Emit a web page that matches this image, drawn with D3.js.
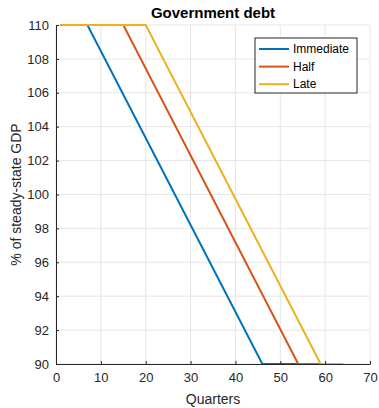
<!DOCTYPE html>
<html>
<head>
<meta charset="utf-8">
<script src="https://cdn.jsdelivr.net/npm/d3@7"></script>
<style>
  body { margin: 0; background: #fff; }
  text { font-family: "Liberation Sans", Arial, sans-serif; }
</style>
</head>
<body>
<div id="chart"></div>
<script>
// breakpoints of each path (quarter, % of steady-state GDP)
var seriesNames = ["Immediate", "Half", "Late"];
var immediate = [[1, 110], [7, 110], [46, 90], [64, 90]];
var half = [[1, 110], [15, 110], [54, 90], [64, 90]];
var late = [[1, 110], [20, 110], [59, 90], [64, 90]];
var xTicks = [0, 10, 20, 30, 40, 50, 60, 70];
var yTicks = [90, 92, 94, 96, 98, 100, 102, 104, 106, 108, 110];

var colors = ["#0072BD", "#D95319", "#EDB120"];
var allSeries = [immediate, half, late];

var width = 379, height = 408;
var margin = {left: 56, right: 9, top: 25, bottom: 44};

var svg = d3.select("#chart").append("svg")
  .attr("width", width)
  .attr("height", height);

var x = d3.scaleLinear().domain([0, 70]).range([margin.left, width - margin.right]);
var y = d3.scaleLinear().domain([90, 110]).range([height - margin.bottom, margin.top]);

// grid
var grid = svg.append("g");
grid.selectAll("line.gx").data(xTicks).enter().append("line")
  .attr("x1", function(d) { return x(d); }).attr("x2", function(d) { return x(d); })
  .attr("y1", y(90)).attr("y2", y(110))
  .attr("stroke", "#e6e6e6").attr("stroke-width", 1);
grid.selectAll("line.gy").data(yTicks).enter().append("line")
  .attr("y1", function(d) { return y(d); }).attr("y2", function(d) { return y(d); })
  .attr("x1", x(0)).attr("x2", x(70))
  .attr("stroke", "#e6e6e6").attr("stroke-width", 1);

// lines
var line = d3.line()
  .x(function(d) { return x(d[0]); })
  .y(function(d) { return y(d[1]); });

svg.append("g").selectAll("path").data(allSeries).enter().append("path")
  .attr("d", line)
  .attr("fill", "none")
  .attr("stroke", function(d, i) { return colors[i]; })
  .attr("stroke-width", 2);

// axes
var xAxis = d3.axisBottom(x).tickValues(xTicks).tickSizeInner(-3).tickSizeOuter(0).tickPadding(9);
var yAxis = d3.axisLeft(y).tickValues(yTicks).tickSizeInner(-3).tickSizeOuter(0).tickPadding(7);

var gx = svg.append("g").attr("transform", "translate(0," + y(90) + ")").call(xAxis);
var gy = svg.append("g").attr("transform", "translate(" + x(0) + ",0)").call(yAxis);
[gx, gy].forEach(function(g) {
  g.select(".domain").attr("stroke", "#262626");
  g.selectAll(".tick line").attr("stroke", "#262626");
  g.selectAll(".tick text").attr("fill", "#262626").style("font-size", "13px").style("font-family", "Liberation Sans, Arial, sans-serif");
});

// title and labels
svg.append("text")
  .attr("x", (x(0) + x(70)) / 2).attr("y", 18)
  .attr("text-anchor", "middle")
  .style("font-size", "15px").style("font-weight", "bold")
  .text("Government debt");

svg.append("text")
  .attr("x", (x(0) + x(70)) / 2).attr("y", 404)
  .attr("text-anchor", "middle")
  .attr("fill", "#262626")
  .style("font-size", "14px")
  .text("Quarters");

svg.append("text")
  .attr("transform", "translate(21," + (y(100)) + ") rotate(-90)")
  .attr("text-anchor", "middle")
  .attr("fill", "#262626")
  .style("font-size", "14px")
  .text("% of steady-state GDP");

// legend
var legend = svg.append("g").attr("transform", "translate(255,38)");
legend.append("rect")
  .attr("width", 102).attr("height", 55)
  .attr("fill", "#fff").attr("stroke", "#262626").attr("stroke-width", 1);
var item = legend.selectAll("g.item").data(seriesNames).enter().append("g")
  .attr("transform", function(d, i) { return "translate(0," + (11 + i * 17.6) + ")"; });
item.append("line")
  .attr("x1", 4).attr("x2", 34)
  .attr("stroke", function(d, i) { return colors[i]; })
  .attr("stroke-width", 2);
item.append("text")
  .attr("x", 38).attr("dy", "0.35em")
  .attr("fill", "#000")
  .style("font-size", "12px")
  .text(function(d) { return d; });
</script>
</body>
</html>
